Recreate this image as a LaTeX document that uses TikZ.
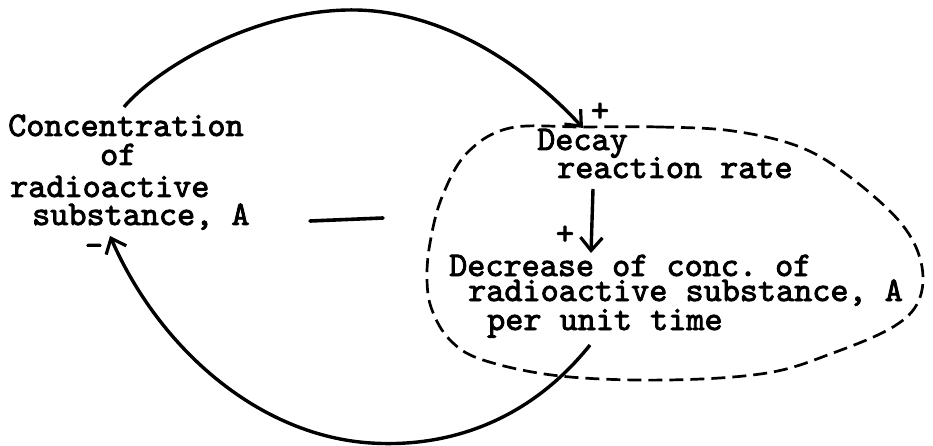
\documentclass[tikz,border=0pt]{standalone}
\usepackage{fontspec}
\newfontfamily\tw{lmmono10-regular.otf}[FakeBold=2.5]
\newcommand\twfont{\tw\fontsize{34.5}{30}\selectfont}
\newcommand\fixspaces{\spaceskip=18.1pt\relax\xspaceskip=18.1pt\relax}
\usetikzlibrary{arrows.meta}
\begin{document}
\begin{tikzpicture}[x=1pt,y=-1pt,
  txt/.style={anchor=base west,inner sep=0pt,font=\twfont,align=left,
    execute at begin node=\fixspaces},
  sgn/.style={inner sep=0pt,font=\twfont},
  link/.style={line width=3.4pt,-{Straight Barb[length=13pt,width=22pt,line width=3.2pt]}},
  loopbound/.style={line width=2.7pt,dash pattern=on 14pt off 7pt}]
\useasboundingbox (0,0) rectangle (933,446);
% left variable
\node[txt,text width=270pt] (conc) at (8,136)
  {Concentration\\[-1pt]\hspace*{92pt}of\\[2pt]\hspace*{2pt}radioactive\\[-2pt]\hspace*{24pt}substance, A};
% right variables
\node[txt,text width=320pt] (decay) at (537,150)
  {Decay\\[-2pt]\hspace*{20pt}reaction rate};
\node[txt,text width=480pt] (decr) at (449,276)
  {Decrease of conc. of\\[-5pt]\hspace*{19pt}radioactive substance, A\\[-1pt]\hspace*{38pt}per unit time};
% signs
\node[sgn] (p1) at (600,112) {+};
\node[sgn] (p2) at (565,235) {+};
\node[sgn] (m1) at (94,250) {-};
% loop polarity bar
\coordinate (barL) at (310,221);
\coordinate (barR) at (383,218);
\draw[line width=3.6pt,line cap=round] (barL) -- (barR);
% dashed boundary
\draw[loopbound] plot[smooth cycle,tension=0.6] coordinates {
 (583,127) (660,127) (733,131) (800,147) (850,177) (900,222) (921,262)
 (919,300) (893,327) (833,353) (767,373) (667,380) (560,376) (483,360)
 (450,340) (432,310) (427,280) (430,243) (442,197) (467,153) (510,128)};
% connectors
\coordinate (a1) at (124,107);
\coordinate (a2) at (583,128);
\draw[link] (a1) .. controls (155,70) and (250,12) .. (347,10)
  .. controls (440,8) and (525,65) .. (a2);
\coordinate (b1) at (593,189);
\coordinate (b2) at (591,253);
\draw[link] (b1) -- (b2);
\coordinate (f1) at (590,345);
\coordinate (f2) at (110,236);
\draw[link] (f1) .. controls (530,420) and (450,448) .. (371,443)
  .. controls (260,436) and (160,350) .. (f2);
\end{tikzpicture}
\end{document}
